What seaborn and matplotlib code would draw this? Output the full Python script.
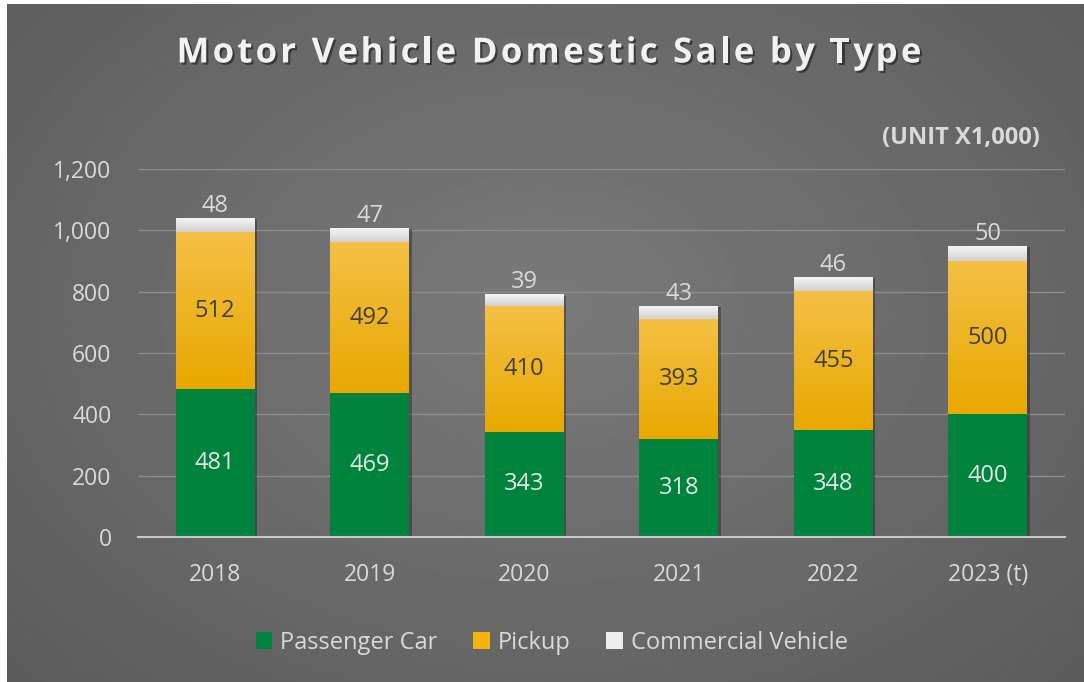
import numpy as np
import pandas as pd
import seaborn as sns
import matplotlib.pyplot as plt
import matplotlib.patheffects as pe
from matplotlib.ticker import FuncFormatter
from matplotlib.patches import Patch
from matplotlib.font_manager import FontProperties

years = ["2018", "2019", "2020", "2021", "2022", "2023 (t)"]
passenger = [481, 469, 343, 318, 348, 400]
pickup = [512, 492, 410, 393, 455, 500]
commercial = [48, 47, 39, 43, 46, 50]

df = pd.DataFrame({"year": years, "Passenger Car": passenger,
                   "Pickup": pickup, "Commercial Vehicle": commercial})
df["lvl1"] = df["Passenger Car"]
df["lvl2"] = df["lvl1"] + df["Pickup"]
df["lvl3"] = df["lvl2"] + df["Commercial Vehicle"]

sns.set_theme(style="dark")
plt.rcParams["font.family"] = ["Open Sans", "DejaVu Sans"]

W, H = 1084, 682
fig = plt.figure(figsize=(W / 100, H / 100), dpi=100)
fig.patch.set_facecolor("white")

# radial gray background
bg = fig.add_axes([7 / W, 0, 1 - 7 / W, 1 - 4 / H])
yy, xx = np.mgrid[0:1:300j, 0:1:480j]
r = np.sqrt(((xx - 0.5) / 0.75) ** 2 + ((yy - 0.45) / 0.85) ** 2)
shade = np.clip(0.48 - 0.13 * r, 0, 1)
bg.imshow(shade, cmap="gray", vmin=0, vmax=1, aspect="auto", extent=[0, 1, 0, 1])
bg.set_axis_off()

ax = fig.add_axes([138 / W, 1 - 537 / H, (1065 - 138) / W, (537 - 169) / H])
ax.set_facecolor("none")

green = "#00843d"
yellow = "#f2b40c"
white = "#eeeeee"
bw = 0.51

shadow = [pe.SimplePatchShadow(offset=(2, -1), shadow_rgbFace="black", alpha=0.3), pe.Normal()]
sns.barplot(data=df, x="year", y="lvl3", color=white, width=bw, saturation=1, ax=ax,
            linewidth=0)
sns.barplot(data=df, x="year", y="lvl2", color=yellow, width=bw, saturation=1, ax=ax,
            linewidth=0)
sns.barplot(data=df, x="year", y="lvl1", color=green, width=bw, saturation=1, ax=ax,
            linewidth=0)

n = len(years)
bars = ax.patches
for p in bars[:n]:
    p.set_path_effects(shadow)


# gradients on pickup and commercial segments
def grad(p, top, bottom, y0, y1):
    x0 = p.get_x()
    g = np.linspace(0, 1, 64).reshape(-1, 1)
    c = np.array(top) * (1 - g) + np.array(bottom) * g
    im = ax.imshow(c.reshape(64, 1, 3), extent=[x0, x0 + p.get_width(), y0, y1],
                   aspect="auto", origin="upper", zorder=p.get_zorder() + 0.1)
    im.set_clip_path(p)


for i in range(n):
    grad(bars[i], (0.97, 0.97, 0.97), (0.82, 0.82, 0.82), df["lvl2"][i], df["lvl3"][i])
    grad(bars[n + i], (0.96, 0.75, 0.27), (0.91, 0.66, 0.0), df["lvl1"][i], df["lvl2"][i])

ax.set_xlim(-0.5, n - 0.5)
ax.set_ylim(0, 1200)
ax.set_yticks(range(0, 1201, 200))
ax.yaxis.set_major_formatter(FuncFormatter(lambda v, _: f"{int(v):,}"))
ax.grid(axis="y", color="#8c8c8c", linewidth=1)
ax.set_axisbelow(True)
for s in ["top", "right", "left"]:
    ax.spines[s].set_visible(False)
ax.spines["bottom"].set_color("#c8c8c8")
ax.spines["bottom"].set_linewidth(1.5)
ax.tick_params(axis="both", length=0, labelsize=16.5, colors="#d9d9d9")
ax.tick_params(axis="y", pad=19)
ax.tick_params(axis="x", pad=19)
ax.set_xlabel("")
ax.set_ylabel("")

for i in range(n):
    ax.text(i, df["lvl1"][i] / 2, f"{passenger[i]}", ha="center", va="center",
            fontsize=17, color="#e6e6e6")
    ax.text(i, (df["lvl1"][i] + df["lvl2"][i]) / 2, f"{pickup[i]}", ha="center",
            va="center", fontsize=17, color="#404040")
    ax.annotate(f"{commercial[i]}", (i, df["lvl3"][i]), xytext=(0, 0),
                textcoords="offset points", ha="center", va="bottom",
                fontsize=17, color="#d9d9d9")

# title with letter spacing
title = "Motor Vehicle Domestic Sale by Type"
tfont = FontProperties(family=["Open Sans", "DejaVu Sans"], weight="bold", size=25)
renderer = fig.canvas.get_renderer()
track = 3.3
widths = [renderer.get_text_width_height_descent(title[:k].replace(" ", "\u00a0"), tfont, ismath=False)[0]
          for k in range(len(title) + 1)]
total = widths[-1] + track * (len(title) - 1)
x_start = 549 - total / 2
title_fx = [pe.withSimplePatchShadow(offset=(1.5, -1.5), shadow_rgbFace="black", alpha=0.45)]
for k, ch in enumerate(title):
    if ch == " ":
        continue
    fig.text((x_start + widths[k] + track * k) / W, 1 - 62.5 / H, ch, ha="left",
             va="baseline", fontproperties=tfont, color="#f2f2f2", path_effects=title_fx)

fig.text(1040 / W, 1 - 138 / H, "(UNIT X1,000)", ha="right", va="center",
         fontsize=17, fontweight="bold", color="#d9d9d9")

handles = [Patch(facecolor=green, edgecolor="none", label="Passenger Car"),
           Patch(facecolor=yellow, edgecolor="none", label="Pickup"),
           Patch(facecolor=white, edgecolor="none", label="Commercial Vehicle")]
leg = fig.legend(handles=handles, loc="center", bbox_to_anchor=(0.509, 1 - 643 / H),
                 ncol=3, frameon=False, fontsize=17, handlelength=0.7, handleheight=0.7,
                 handletextpad=0.35, columnspacing=1.5)
for t in leg.get_texts():
    t.set_color("#d9d9d9")

fig.savefig("out.png", dpi=100, facecolor=fig.get_facecolor())
